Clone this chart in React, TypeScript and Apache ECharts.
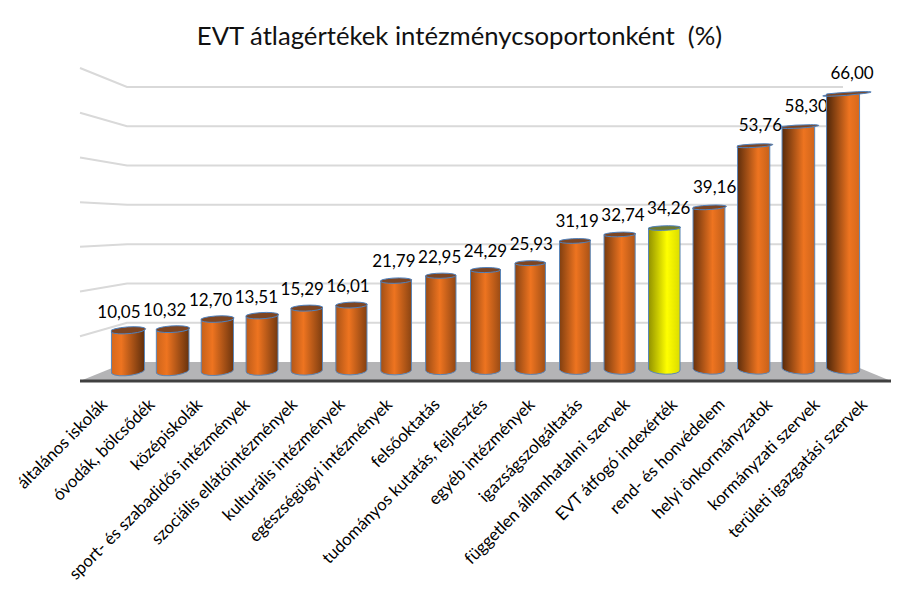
import React, { useEffect, useRef } from "react";
import * as echarts from "echarts";

const categories = [
  "általános iskolák",
  "óvodák, bölcsődék",
  "középiskolák",
  "sport- és szabadidős intézmények",
  "szociális ellátóintézmények",
  "kulturális intézmények",
  "egészségügyi intézmények",
  "felsőoktatás",
  "tudományos kutatás, fejlesztés",
  "egyéb intézmények",
  "igazságszolgáltatás",
  "független államhatalmi szervek",
  "EVT átfogó indexérték",
  "rend- és honvédelem",
  "helyi önkormányzatok",
  "kormányzati szervek",
  "területi igazgatási szervek",
];
const values = [10.05, 10.32, 12.7, 13.51, 15.29, 16.01, 21.79, 22.95, 24.29, 25.93, 31.19, 32.74, 34.26, 39.16, 53.76, 58.3, 66.0];
const gridValues = [10, 20, 30, 40, 50, 60, 70];
const highlighted = "EVT átfogó indexérték";
const FONT = "Lato, 'Open Sans', sans-serif";

const lerp = (a: number, b: number, t: number) => a + (b - a) * t;
const mix = (c1: number[], c2: number[], t: number) =>
  `rgb(${c1.map((v, k) => Math.round(lerp(v, c2[k], t))).join(",")})`;

function renderBar(params: any, api: any) {
  const i = api.value(0);
  const v = api.value(1);
  const n = categories.length - 1;
  const u = i / n;
  const mid = Math.abs(u - 0.5) * 2;
  const [cx, yt] = api.coord([i, v]);
  const [, y0] = api.coord([i, 0]);
  const yb = y0 - 2.5;
  const w = 30 + 3 * mid;
  const xl = cx - w / 2;
  const xr = cx + w / 2;
  const topTilt = 0.2 + 0.9 * mid;
  const botTilt = (0.5 - u) * 3.6;
  const ryTop = 0.8 + (yt - 90) / 110;
  const ryBot = 4.6;
  const yellow = categories[i] === highlighted;
  const topAngle = (Math.atan2(-2 * topTilt, w) * 180) / Math.PI;
  const botAngle = (Math.atan2(-2 * botTilt, w) * 180) / Math.PI;
  const rxTop = Math.hypot(w, 2 * topTilt) / 2 + 0.01;
  const rxBot = Math.hypot(w, 2 * botTilt) / 2 + 0.01;

  const peak = 0.3 + 0.38 * u;
  const bright = yellow ? [255, 255, 0] : [238, 116, 32];
  const dark = yellow ? [110, 110, 0] : [70, 34, 8];
  const stops = [
    { offset: 0, color: mix(bright, dark, yellow ? 0.75 : lerp(0.15, 0.95, u)) },
    { offset: peak, color: mix(bright, dark, 0) },
    { offset: 1, color: mix(bright, dark, yellow ? 0.25 : lerp(0.85, 0.15, u)) },
  ];
  const body =
    `M${xl} ${yt + topTilt}L${xl} ${yb + botTilt}` +
    `A${rxBot} ${ryBot} ${botAngle} 0 0 ${xr} ${yb - botTilt}` +
    `L${xr} ${yt - topTilt}Z`;
  const top =
    `M${xl} ${yt + topTilt}A${rxTop} ${ryTop} ${topAngle} 0 0 ${xr} ${yt - topTilt}` +
    `A${rxTop} ${ryTop} ${topAngle} 0 0 ${xl} ${yt + topTilt}Z`;
  return {
    type: "group",
    children: [
      {
        type: "path",
        shape: { pathData: body },
        style: {
          fill: new echarts.graphic.LinearGradient(0, 0, 1, 0, stops),
          stroke: "#5b86b8",
          lineWidth: 1,
          lineJoin: "round",
        },
      },
      {
        type: "path",
        shape: { pathData: top },
        style: { fill: yellow ? "#6f7a30" : "#7d4522", stroke: "#4f81bd", lineWidth: 1, lineJoin: "round" },
      },
      {
        type: "text",
        style: {
          x: cx - 9 + 18 * u,
          y: yt - 18.5 - v * 0.05,
          text: v.toFixed(2).replace(".", ","),
          fill: "#000",
          font: `17px ${FONT}`,
          align: "center",
          verticalAlign: "middle",
        },
      },
    ],
  };
}

function renderWall(params: any, api: any) {
  const v = api.value(1);
  const [xb0, yb] = api.coord([0, v]);
  const [xb1] = api.coord([1, v]);
  const [, base] = api.coord([0, 0]);
  const fy = 381 - (base - yb) * (313 / 275);
  return {
    type: "polyline",
    shape: { points: [[80, fy], [xb0, yb], [xb1, yb]] },
    style: { fill: "none", stroke: "#d9d9d9", lineWidth: 2 },
  };
}

function renderFloor(params: any, api: any) {
  const [x0, y0] = api.coord([0, 0]);
  const [x1] = api.coord([1, 0]);
  return {
    type: "group",
    children: [
      {
        type: "polygon",
        shape: { points: [[80, 381], [x0, y0], [x1 + 2, y0], [891, 381]] },
        style: { fill: "#b4b4b6" },
      },
      {
        type: "line",
        shape: { x1: 80, y1: 381, x2: 891, y2: 381 },
        style: { stroke: "#404040", lineWidth: 3 },
      },
    ],
  };
}

export default function App() {
  const ref = useRef<HTMLDivElement>(null);
  useEffect(() => {
    document.body.style.margin = "0";
    const chart = echarts.init(ref.current!, undefined, { renderer: "svg" });
    chart.setOption({
      animation: false,
      backgroundColor: "#fff",
      title: {
        text: "EVT átlagértékek intézménycsoportonként  (%)",
        left: 454.5,
        top: 17,
        textAlign: "center",
        textStyle: { fontFamily: FONT, fontSize: 25.7, fontWeight: "normal", color: "#111" },
      },
      grid: [
        { left: 105.6, width: 759.8, top: 77.1, height: 295.4 },
        { left: 127, width: 716, top: 87, height: 275 },
        { left: 80, width: 807.5, top: 380, height: 5 },
      ],
      xAxis: [
        { type: "category", gridIndex: 0, data: categories, show: false },
        { type: "value", gridIndex: 1, min: 0, max: 1, show: false },
        {
          type: "category",
          gridIndex: 2,
          data: categories,
          axisLine: { show: false },
          axisTick: { show: false },
          axisLabel: {
            interval: 0,
            rotate: 45,
            margin: 16,
            fontFamily: FONT,
            fontSize: 16.8,
            color: "#000",
          },
        },
      ],
      yAxis: [
        { type: "value", gridIndex: 0, min: 0, max: 70, show: false },
        { type: "value", gridIndex: 1, min: 0, max: 70, show: false },
        { type: "value", gridIndex: 2, show: false },
      ],
      series: [
        {
          type: "custom",
          xAxisIndex: 1,
          yAxisIndex: 1,
          silent: true,
          z: 1,
          clip: false,
          renderItem: renderWall,
          data: gridValues.map((v) => [0, v]),
        },
        {
          type: "custom",
          xAxisIndex: 1,
          yAxisIndex: 1,
          silent: true,
          z: 2,
          clip: false,
          renderItem: renderFloor,
          data: [[0, 0]],
        },
        {
          type: "custom",
          xAxisIndex: 0,
          yAxisIndex: 0,
          silent: true,
          z: 3,
          clip: false,
          renderItem: renderBar,
          data: values.map((v, i) => [i, v]),
        },
      ],
    });
    return () => chart.dispose();
  }, []);
  return <div ref={ref} style={{ width: 917, height: 605 }} />;
}
